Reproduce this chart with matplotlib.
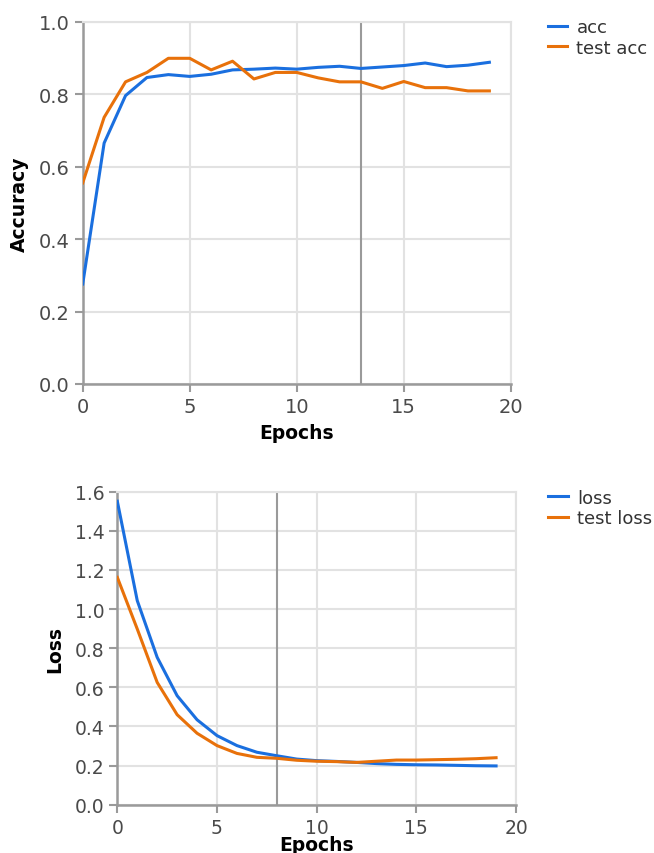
import matplotlib
matplotlib.use("Agg")
import matplotlib.pyplot as plt

# epochs 0..19
epochs = list(range(20))

# accuracy history
acc = [0.276, 0.665, 0.796, 0.846, 0.854, 0.849, 0.855, 0.867, 0.869, 0.872,
       0.869, 0.874, 0.877, 0.871, 0.875, 0.879, 0.886, 0.876, 0.880, 0.888]
test_acc = [0.555, 0.736, 0.834, 0.860, 0.899, 0.899, 0.867, 0.891, 0.842, 0.860,
            0.860, 0.845, 0.834, 0.834, 0.816, 0.835, 0.818, 0.818, 0.809, 0.809]
acc_marker = 13

# loss history
loss = [1.551, 1.043, 0.753, 0.557, 0.434, 0.353, 0.302, 0.268, 0.250, 0.233,
        0.225, 0.221, 0.216, 0.210, 0.206, 0.204, 0.203, 0.201, 0.199, 0.198]
test_loss = [1.162, 0.898, 0.625, 0.460, 0.365, 0.302, 0.262, 0.242, 0.237, 0.227,
             0.222, 0.220, 0.216, 0.222, 0.228, 0.228, 0.230, 0.232, 0.235, 0.240]
loss_marker = 8

BLUE = "#1a6fdf"
ORANGE = "#e8710a"
GRID = "#e2e2e2"
AXIS = "#9a9a9a"

plt.rcParams["font.family"] = ["DejaVu Sans"]


def style_axes(ax, yticks, ylim, fs):
    ax.set_xlim(0, 20)
    ax.set_ylim(*ylim)
    ax.set_xticks([0, 5, 10, 15, 20])
    ax.set_yticks(yticks)
    ax.set_yticklabels([f"{t:.1f}" for t in yticks])
    ax.grid(True, color=GRID, linewidth=1.5)
    ax.set_axisbelow(True)
    for side in ["top", "right"]:
        ax.spines[side].set_color(GRID)
        ax.spines[side].set_linewidth(1.5)
    for side in ["left", "bottom"]:
        ax.spines[side].set_color(AXIS)
        ax.spines[side].set_linewidth(1.8)
    ax.tick_params(direction="out", length=5.8, width=1.5, color=AXIS,
                   labelsize=fs, labelcolor="#4a4a4a", pad=3.5)


def plot_panel(ax, y1, y2, names, marker, ylabel, yticks, ylim, fs,
               ylab_x, xlab_y, leg_x):
    ax.plot(epochs, y1, color=BLUE, linewidth=2.2, label=names[0], zorder=3)
    ax.plot(epochs, y2, color=ORANGE, linewidth=2.2, label=names[1], zorder=3)
    ax.axvline(marker, color="#9a9a9a", linewidth=1.5, zorder=2)
    style_axes(ax, yticks, ylim, fs)
    ax.set_xlabel("Epochs", fontsize=13.5, fontweight="bold")
    ax.set_ylabel(ylabel, fontsize=13.5, fontweight="bold")
    ax.yaxis.set_label_coords(ylab_x, 0.5)
    ax.xaxis.set_label_coords(0.5, xlab_y)
    # legend kept just inside the right edge so the longer label is not cut
    leg = ax.legend(loc="upper left", bbox_to_anchor=(leg_x, 1.01), frameon=False,
                    fontsize=13, handlelength=1.1, handletextpad=0.5,
                    labelspacing=0.15, borderaxespad=0, borderpad=0)
    for t in leg.get_texts():
        t.set_color("#333333")


fig = plt.figure(figsize=(6.54, 8.54), dpi=100)

ax1 = fig.add_axes([0.1265, 0.5492, 0.6545, 0.4242])
plot_panel(ax1, acc, test_acc, ["acc", "test acc"], acc_marker, "Accuracy",
           [0.0, 0.2, 0.4, 0.6, 0.8, 1.0], (0, 1.0), 14,
           -0.125, -0.108, 1.086)

ax2 = fig.add_axes([0.1794, 0.0566, 0.6096, 0.3665])
plot_panel(ax2, loss, test_loss, ["loss", "test loss"], loss_marker, "Loss",
           [0.0, 0.2, 0.4, 0.6, 0.8, 1.0, 1.2, 1.4, 1.6], (0, 1.6), 13.5,
           -0.133, -0.098, 1.08)

fig.savefig("out.png", dpi=100)
